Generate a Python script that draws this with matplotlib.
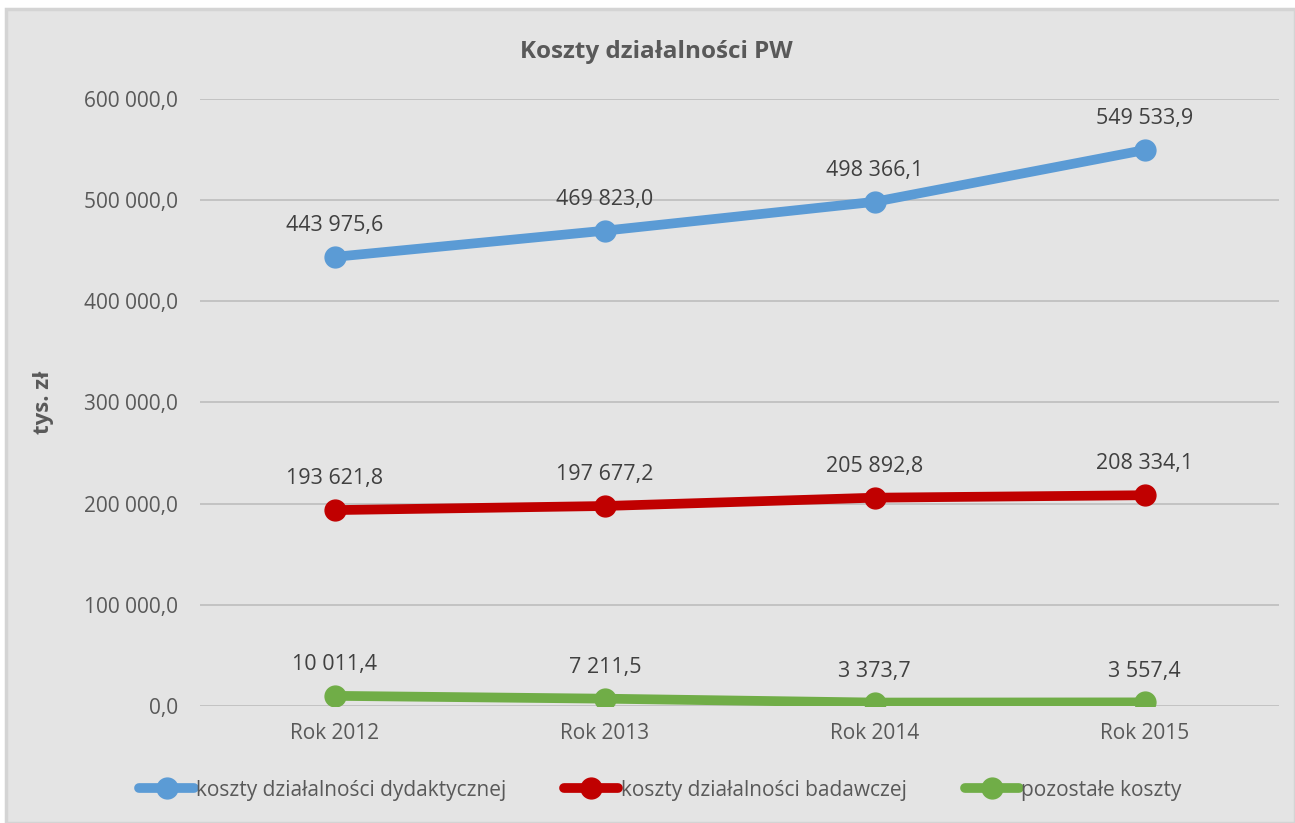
import matplotlib.pyplot as plt
import matplotlib.patches as mpatches

years = ['Rok 2012', 'Rok 2013', 'Rok 2014', 'Rok 2015']
dydaktyczne = [443975.6, 469823.0, 498366.1, 549533.9]
badawcze = [193621.8, 197677.2, 205892.8, 208334.1]
pozostale = [10011.4, 7211.5, 3373.7, 3557.4]

series = [
    ('koszty działalności dydaktycznej', dydaktyczne, '#5B9BD5'),
    ('koszty działalności badawczej', badawcze, '#C00000'),
    ('pozostałe koszty', pozostale, '#70AD47'),
]

plt.rcParams['font.family'] = ['Open Sans', 'DejaVu Sans']
text_color = '#595959'
bg = '#E4E4E4'


def fmt(v):
    s = f'{v:,.1f}'
    return s.replace(',', ' ').replace('.', ',')


fig = plt.figure(figsize=(12.95, 8.23), dpi=100, facecolor='white')
fig.patches.append(mpatches.Rectangle((6 / 1295, 0), 1 - 6 / 1295, 1 - 9 / 823,
                                      transform=fig.transFigure, facecolor=bg,
                                      edgecolor='#D4D4D4', linewidth=2.5, zorder=-10))

ax = fig.add_axes([0.1544, 0.1422, 0.8336, 0.7375])
ax.set_facecolor('none')

x = [i + 0.5 for i in range(len(years))]
for name, vals, color in series:
    ax.plot(x, vals, color=color, lw=7, marker='o', ms=15, solid_capstyle='round',
            label=name, zorder=3)
    for xi, v in zip(x, vals):
        ax.annotate(fmt(v), (xi, v), xytext=(0, 15), textcoords='offset points',
                    ha='center', va='bottom', fontsize=15.5, color='#404040')

ax.set_xlim(0, 4)
ax.set_ylim(0, 600000)
ax.set_yticks(range(0, 600001, 100000))
ax.set_yticklabels([fmt(v) for v in range(0, 600001, 100000)])
ax.set_xticks(x)
ax.set_xticklabels(years)
ax.tick_params(axis='both', length=0, labelsize=15, colors=text_color, pad=12)
ax.tick_params(axis='y', pad=16)
ax.grid(axis='y', color='#BDBDBD', lw=1.2)
ax.set_axisbelow(True)
for sp in ax.spines.values():
    sp.set_visible(False)

ax.set_ylabel('tys. zł', fontsize=16, fontweight='bold', color=text_color)
ax.yaxis.set_label_coords(-0.135, 0.5)
fig.text(0.507, 0.937, 'Koszty działalności PW', ha='center', va='center',
         fontsize=17.5, fontweight='bold', color=text_color)

leg = fig.legend(loc='center', bbox_to_anchor=(0.51, 0.04), ncol=3, frameon=False,
                 fontsize=15, labelcolor=text_color, handlelength=2.6,
                 handletextpad=0.1, columnspacing=2.8)

fig.savefig('out.png', dpi=100, facecolor=fig.get_facecolor())
